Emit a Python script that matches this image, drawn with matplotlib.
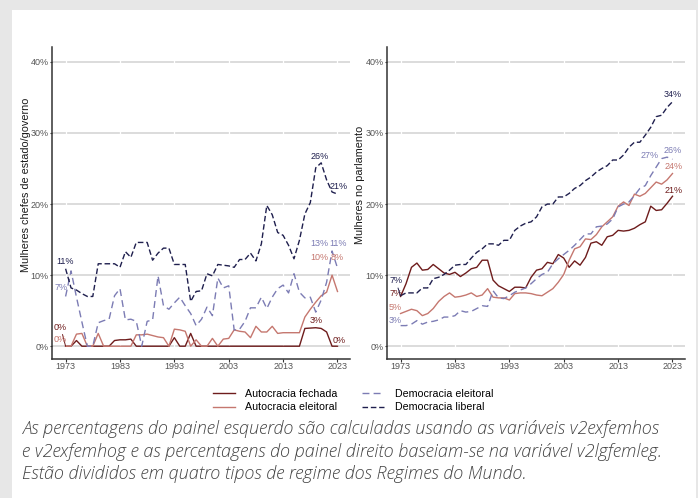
import matplotlib.pyplot as plt
from matplotlib.lines import Line2D
from matplotlib.patches import Rectangle

years = list(range(1973, 2024))

# Mulheres chefes de estado/governo (%), por tipo de regime
exec_fechada = [
    0.0, 0.0, 0.8, 0.0, 0.0, 0.0, 0.0, 0.0, 0.0, 0.8,
    0.9, 0.9, 1.0, 0.0, 0.0, 0.0, 0.0, 0.0, 0.0, 0.0,
    1.2, 0.0, 0.0, 1.8, 0.0, 0.0, 0.0, 0.0, 0.0, 0.0,
    0.0, 0.0, 0.0, 0.0, 0.0, 0.0, 0.0, 0.0, 0.0, 0.0,
    0.0, 0.0, 0.0, 0.0, 2.5, 2.55, 2.6, 2.5, 2.0, 0.0,
    0.0,
]
exec_eleitoral = [
    0.0, 0.0, 1.7, 1.8, 0.0, 0.0, 1.8, 0.0, 0.0, 0.0,
    0.0, 0.0, 0.0, 1.6, 1.6, 1.7, 1.5, 1.3, 1.2, 0.0,
    2.4, 2.3, 2.1, 0.0, 0.9, 0.0, 0.0, 1.1, 0.0, 1.0,
    1.1, 2.3, 2.1, 2.0, 1.2, 2.8, 2.0, 2.0, 2.8, 1.8,
    1.9, 1.9, 1.9, 1.9, 4.1, 5.2, 6.2, 7.1, 7.6, 10.0,
    7.7,
]
exec_dem_eleitoral = [
    7.0, 10.6, 6.9, 3.4, 0.0, 0.0, 3.3, 3.6, 3.8, 7.1,
    8.1, 3.7, 3.8, 3.5, 0.0, 3.5, 3.7, 9.9, 5.7, 5.2,
    6.1, 6.9, 5.7, 4.6, 2.9, 3.8, 5.5, 4.3, 9.6, 8.2,
    8.5, 2.3, 2.4, 3.5, 5.4, 5.4, 6.9, 5.3, 6.9, 8.1,
    8.6, 7.5, 10.2, 7.6, 6.8, 6.9, 4.8, 6.5, 9.0, 13.4,
    11.0,
]
exec_liberal = [
    10.9, 8.2, 7.9, 7.4, 7.0, 7.0, 11.6, 11.6, 11.6, 11.6,
    11.1, 13.3, 12.5, 14.6, 14.6, 14.6, 12.1, 13.1, 13.8, 13.8,
    11.5, 11.5, 11.5, 6.3, 7.7, 7.8, 10.2, 9.9, 11.5, 11.4,
    11.3, 11.1, 12.2, 12.2, 13.1, 12.0, 14.4, 19.8, 18.5, 16.0,
    15.6, 14.2, 12.3, 14.9, 18.6, 20.2, 25.1, 25.8, 23.4, 21.7,
    21.4,
]

# Mulheres no parlamento (%), por tipo de regime
parl_fechada = [
    7.0, 8.8, 11.1, 11.7, 10.7, 10.8, 11.5, 10.9, 10.3, 10.1,
    10.4, 9.8, 10.3, 10.9, 11.1, 12.1, 12.1, 9.3, 8.5, 8.1,
    7.7, 8.3, 8.3, 8.2, 9.7, 10.7, 10.9, 11.8, 11.6, 12.9,
    12.4, 11.1, 12.0, 11.4, 12.5, 14.5, 14.7, 14.2, 15.4, 15.6,
    16.3, 16.2, 16.3, 16.6, 17.1, 17.5, 19.7, 19.1, 19.2, 20.1,
    21.1,
]
parl_eleitoral = [
    4.6, 4.9, 5.2, 5.0, 4.3, 4.6, 5.3, 6.3, 7.0, 7.5,
    6.9, 7.0, 7.2, 7.5, 7.0, 7.2, 8.1, 6.9, 6.8, 6.8,
    6.5, 7.4, 7.5, 7.5, 7.4, 7.2, 7.1, 7.6, 8.1, 9.0,
    10.1, 12.1, 13.7, 14.0, 15.1, 15.0, 15.7, 16.8, 17.5, 18.2,
    19.7, 20.3, 19.8, 21.4, 21.1, 21.5, 22.3, 23.1, 22.8, 23.4,
    24.3,
]
parl_dem_eleitoral = [
    2.9, 2.9, 3.1, 3.6, 3.1, 3.4, 3.5, 3.7, 4.1, 4.1,
    4.3, 5.0, 4.8, 4.9, 5.3, 5.7, 5.6, 7.8, 6.8, 6.7,
    7.1, 7.6, 7.9, 8.2, 8.8, 9.5, 10.1, 10.4, 11.6, 12.3,
    12.9, 13.5, 14.2, 15.0, 15.8, 15.8, 16.8, 16.9, 17.2, 17.9,
    19.6, 20.0, 20.3, 21.2, 22.2, 22.6, 24.0, 25.2, 26.4, 26.6,
    26.3,
]
parl_liberal = [
    7.1, 7.5, 7.5, 7.5, 8.2, 8.2, 9.5, 9.7, 10.1, 10.7,
    11.4, 11.5, 11.5, 12.4, 13.2, 13.7, 14.4, 14.4, 14.2, 14.9,
    14.9, 16.3, 16.9, 17.3, 17.5, 18.2, 19.6, 20.0, 20.0, 21.0,
    21.0, 21.5, 22.2, 22.6, 23.3, 23.8, 24.5, 25.0, 25.4, 26.2,
    26.2, 26.9, 28.0, 28.7, 28.7, 29.7, 30.8, 32.3, 32.5, 33.6,
    34.4,
]

regimes = [
    "Autocracia fechada",
    "Autocracia eleitoral",
    "Democracia eleitoral",
    "Democracia liberal",
]
colors = ["#6e1c1c", "#c5776f", "#7c7cb4", "#1f1f4e"]
dash_styles = ["-", "-", (0, (5, 3)), (0, (4, 2))]

caption_lines = [
    "As percentagens do painel esquerdo são calculadas usando as variáveis v2exfemhos",
    "e v2exfemhog e as percentagens do painel direito baseiam-se na variável v2lgfemleg.",
    "Estão divididos em quatro tipos de regime dos Regimes do Mundo.",
]

plt.rcParams["font.family"] = ["Liberation Sans", "DejaVu Sans"]

W, H = 698, 498
fig = plt.figure(figsize=(W / 100, H / 100), dpi=100)
fig.patch.set_facecolor("#e7e7e7")
fig.patches.append(Rectangle((12 / W, 0), 684 / W, 1 - 10 / H,
                             transform=fig.transFigure, facecolor="white",
                             edgecolor="none", zorder=-5))


def pct(v):
    return f"{int(v + 0.5)}%"


def style_axes(ax):
    ax.set_facecolor("none")
    ax.set_xlim(1970.5, 2025.3)
    ax.set_ylim(-1.8, 42.1)
    yt = [0, 10, 20, 30, 40]
    xt = list(range(1973, 2024, 10))
    for v in yt:
        ax.axhline(v, color="#d9d9d9", lw=1.3, zorder=0)
    for x in xt:
        ax.axvline(x, color="white", lw=0.9, zorder=0.5)
    ax.set_yticks(yt)
    ax.set_yticklabels([f"{v}%" for v in yt])
    ax.set_xticks(xt)
    for side in ("top", "right"):
        ax.spines[side].set_visible(False)
    for side in ("left", "bottom"):
        ax.spines[side].set_color("#333333")
        ax.spines[side].set_linewidth(1.1)
    ax.tick_params(length=1.8, width=0.8, color="#333333", labelsize=6.5,
                   labelcolor="#555555", pad=0.6)


def draw_panel(ax, series, offsets):
    for vals, c, ls, offs in zip(series, colors, dash_styles, offsets):
        ax.plot(years, vals, color=c, lw=1.0, linestyle=ls, zorder=3)
        i_max = max(range(len(vals)), key=lambda i: vals[i])
        picks = {"first": 0, "max": i_max, "last": len(vals) - 1}
        for key, (dx, dy, seg) in offs.items():
            i = picks[key]
            arrow = None
            if seg:
                arrow = dict(arrowstyle="-", color=c, lw=0.7,
                             shrinkA=0, shrinkB=0)
            ax.annotate(pct(vals[i]), xy=(years[i], vals[i]),
                        xytext=(dx, dy), textcoords="offset pixels",
                        ha="center", va="center", fontsize=6.5, color=c,
                        arrowprops=arrow, zorder=4)


ax1 = fig.add_axes([52 / W, 1 - 359 / H, 298 / W, 312 / H])
ax2 = fig.add_axes([387 / W, 1 - 359 / H, 298 / W, 312 / H])
style_axes(ax1)
style_axes(ax2)

draw_panel(ax1, [exec_fechada, exec_eleitoral, exec_dem_eleitoral, exec_liberal], [
    {"first": (-5, 19, True), "max": (0, 7, False), "last": (2, 6, False)},
    {"first": (-5, 7, False), "max": (-13, 18, False), "last": (0, 34, False)},
    {"first": (-5, 9, False), "max": (-13, 7, False), "last": (1, 25, False)},
    {"first": (-1, 7, False), "max": (-1, 6, False), "last": (1, 8, False)},
])
draw_panel(ax2, [parl_fechada, parl_eleitoral, parl_dem_eleitoral, parl_liberal], [
    {"first": (-5, 3, False), "last": (1, 6, False)},
    {"first": (-5, 6, False), "last": (1, 7, False)},
    {"first": (-5, 5, False), "max": (-17, 2, False), "last": (0, 9, False)},
    {"first": (-5, 15, True), "last": (0, 7, False)},
])

fig.text(26 / W, 1 - 185 / H, "Mulheres chefes de estado/governo", rotation=90,
         ha="center", va="center", fontsize=7.8, color="#1a1a1a")
fig.text(360 / W, 1 - 185 / H, "Mulheres no parlamento", rotation=90,
         ha="center", va="center", fontsize=7.8, color="#1a1a1a")

handles = [Line2D([], [], color=c, lw=1.0, linestyle=ls)
           for c, ls in zip(colors, dash_styles)]
fig.legend(handles, regimes, ncol=2, loc="center", bbox_to_anchor=(0.506, 0.196),
           frameon=False, fontsize=7.7, handlelength=2.0, handletextpad=1.0,
           columnspacing=2.3, labelspacing=0.35)

for k, line in enumerate(caption_lines):
    fig.text(22.5 / W, 1 - (434 + 22.5 * k) / H, line, ha="left", va="baseline",
             fontsize=13.0, color="#444444", style="italic", weight=300,
             family=["Open Sans", "DejaVu Sans"])

fig.savefig("out.png", dpi=100, facecolor=fig.get_facecolor())
